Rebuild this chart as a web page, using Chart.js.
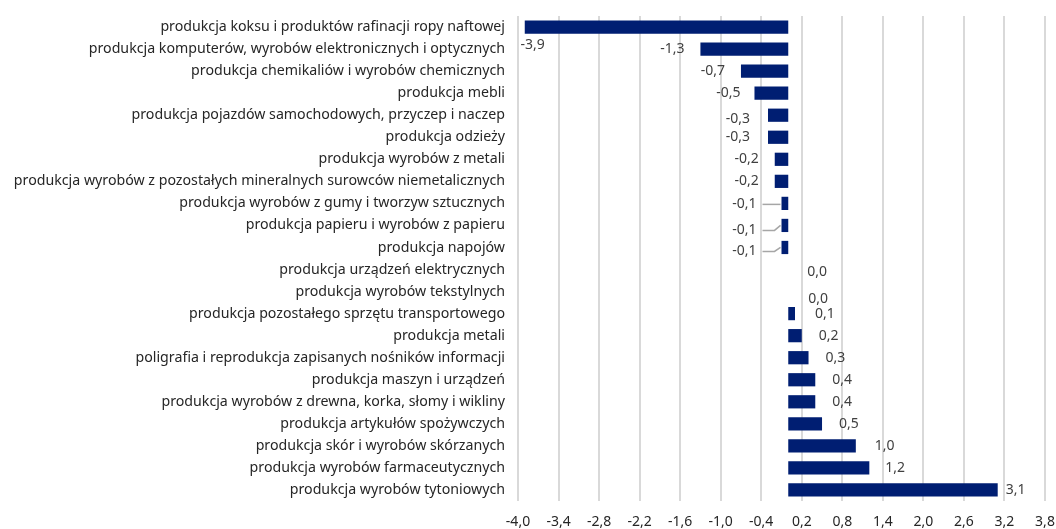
<!DOCTYPE html>
<html>
<head>
<meta charset="utf-8">
<script src="https://cdn.jsdelivr.net/npm/chart.js@4/dist/chart.umd.min.js"></script>
<style>
    html, body { margin: 0; padding: 0; background: #fff; }
    #wrap { width: 1056px; height: 529px; }
</style>
</head>
<body>
<div id="wrap"><canvas id="chart" width="1056" height="529"></canvas></div>
<script>
// categories, top to bottom
const categories = [
    'produkcja koksu i produktów rafinacji ropy naftowej',
    'produkcja komputerów, wyrobów elektronicznych i optycznych',
    'produkcja chemikaliów i wyrobów chemicznych',
    'produkcja mebli',
    'produkcja pojazdów samochodowych, przyczep i naczep',
    'produkcja odzieży',
    'produkcja wyrobów z metali',
    'produkcja wyrobów z pozostałych mineralnych surowców niemetalicznych',
    'produkcja wyrobów z gumy i tworzyw sztucznych',
    'produkcja papieru i wyrobów z papieru',
    'produkcja napojów',
    'produkcja urządzeń elektrycznych',
    'produkcja wyrobów tekstylnych',
    'produkcja pozostałego sprzętu transportowego',
    'produkcja metali',
    'poligrafia i reprodukcja zapisanych nośników informacji',
    'produkcja maszyn i urządzeń',
    'produkcja wyrobów z drewna, korka, słomy i wikliny',
    'produkcja artykułów spożywczych',
    'produkcja skór i wyrobów skórzanych',
    'produkcja wyrobów farmaceutycznych',
    'produkcja wyrobów tytoniowych'
];

const values = [
    -3.9, -1.3, -0.7, -0.5, -0.3, -0.3, -0.2, -0.2, -0.1, -0.1, -0.1,
    0.0, 0.0, 0.1, 0.2, 0.3, 0.4, 0.4, 0.5, 1.0, 1.2, 3.1
];

// x axis: -4,0 ... 3,8 every 0,6
const axisMin = -4.0;
const axisMax = 3.8;
const axisStep = 0.6;

const BAR_COLOR = '#001e72';
const GRID_COLOR = '#d9d9d9';
const TEXT_COLOR = '#262626';
const FONT = '"Noto Sans", "Open Sans", sans-serif';

// hand-moved data labels (dx, dy in px), like the original sheet
const labelNudge = {
    0: [36, 18], 3: [2, 0], 4: [-2, 4], 5: [-2, 0],
    8: [-9, 1], 9: [-9, 5], 10: [-9, 4],
    11: [2, 2], 12: [3, 7], 13: [3, 0], 19: [2, 0], 20: [-1, 0], 21: [-9, 0]
};
const leaderLines = [8, 9, 10];

const fmt = (v) => v.toFixed(1).replace('.', ',');

const valueLabels = {
    id: 'valueLabels',
    afterDatasetsDraw(chart) {
        const ctx = chart.ctx;
        const meta = chart.getDatasetMeta(0);
        ctx.save();
        ctx.font = '14px ' + FONT;
        ctx.fillStyle = '#404040';
        ctx.textBaseline = 'middle';
        meta.data.forEach((bar, i) => {
            const v = values[i];
            const [dx, dy] = labelNudge[i] || [0, 0];
            const neg = v < 0;
            const x = (neg ? bar.x - 16 : bar.x + 17) + dx;
            const y = bar.y + dy;
            ctx.textAlign = neg ? 'right' : 'left';
            ctx.fillText(fmt(v), x, y);

            if (leaderLines.includes(i)) {
                const xs = x + 6;
                const xe = bar.x - 1;
                ctx.save();
                ctx.strokeStyle = '#a6a6a6';
                ctx.lineWidth = 1.5;
                ctx.beginPath();
                ctx.moveTo(xs, y);
                if (dy > 2) {
                    ctx.lineTo(xe - 6, y);
                    ctx.lineTo(xe, bar.y);
                } else {
                    ctx.lineTo(xe, y);
                }
                ctx.stroke();
                ctx.restore();
            }
        });
        ctx.restore();
    }
};

const ctx = document.getElementById('chart').getContext('2d');
new Chart(ctx, {
    type: 'bar',
    data: {
        labels: categories,
        datasets: [{
            data: values,
            backgroundColor: BAR_COLOR,
            borderWidth: 0,
            categoryPercentage: 1,
            barPercentage: 0.6
        }]
    },
    options: {
        responsive: false,
        animation: false,
        indexAxis: 'y',
        layout: { padding: { top: 16, right: 0, left: 0, bottom: 0 } },
        plugins: { legend: { display: false }, tooltip: { enabled: false } },
        scales: {
            x: {
                min: axisMin,
                max: axisMax,
                afterFit: (s) => {
                    s.height = 28;
                    s.paddingLeft = 0;
                    s.paddingRight = 11;
                },
                grid: { color: GRID_COLOR, lineWidth: 2, drawTicks: false },
                border: { display: false },
                ticks: {
                    stepSize: axisStep,
                    padding: 13,
                    color: TEXT_COLOR,
                    font: { family: FONT, size: 14 },
                    callback: (v) => fmt(v)
                }
            },
            y: {
                afterFit: (s) => {
                    s.width = 518;
                    s.paddingTop = 0;
                    s.paddingBottom = 0;
                },
                grid: { display: false, drawTicks: false },
                border: { display: false },
                ticks: {
                    padding: 13,
                    autoSkip: false,
                    color: TEXT_COLOR,
                    font: { family: FONT, size: 14.2 }
                }
            }
        }
    },
    plugins: [valueLabels]
});
</script>
</body>
</html>
